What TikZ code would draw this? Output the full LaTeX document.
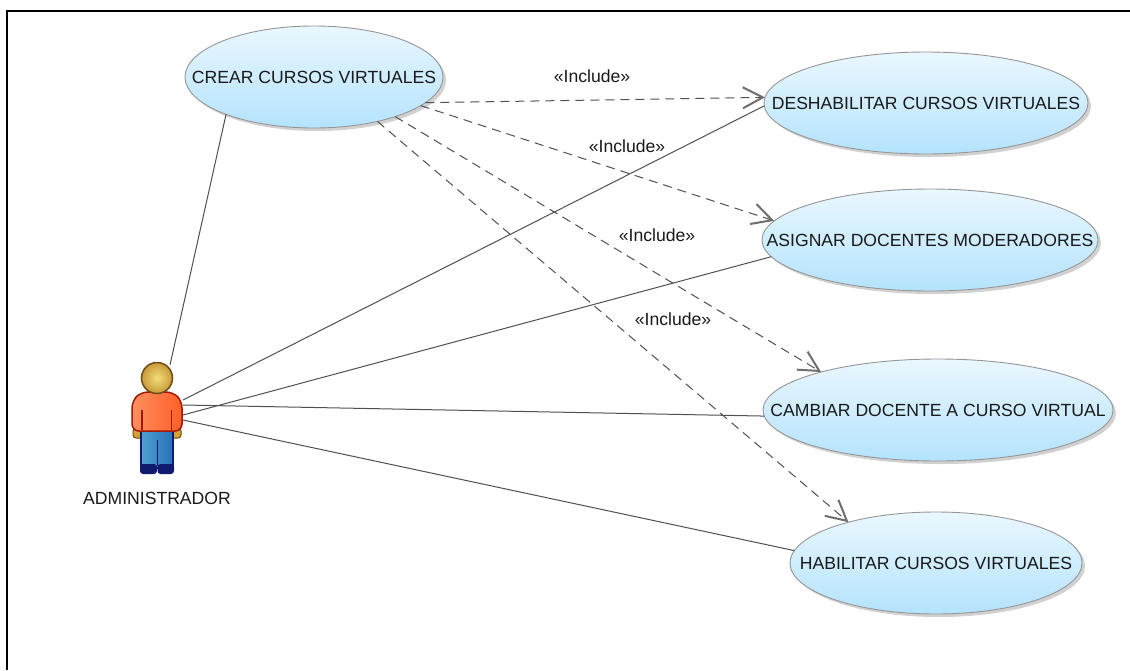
\documentclass[tikz,border=0pt]{standalone}
\usepackage{fontspec}
\setmainfont{Liberation Sans}
\usetikzlibrary{shapes.geometric,shadows,arrows.meta}
\definecolor{uclight}{HTML}{EAF7FF}
\definecolor{ucdark}{HTML}{B4E3FD}
\definecolor{ucline}{HTML}{969696}
\definecolor{conn}{HTML}{505050}
\definecolor{tipc}{HTML}{6E6E6E}
\definecolor{shirtA}{HTML}{FF8F5E}
\definecolor{shirtB}{HTML}{FF5F28}
\definecolor{shirtE}{HTML}{A01808}
\definecolor{jeanA}{HTML}{4FA0D0}
\definecolor{jeanB}{HTML}{2A70B8}
\definecolor{navy}{HTML}{101A6E}
\definecolor{headA}{HTML}{F2DC7A}
\definecolor{headB}{HTML}{C89A38}
\definecolor{headE}{HTML}{6E4A18}
\definecolor{handC}{HTML}{D8A030}
\tikzset{
  usecase/.style={ellipse,draw=ucline,line width=0.9pt,top color=uclight,bottom color=ucdark,
    minimum width=2*#1,minimum height=102pt,inner sep=0pt,outer sep=0pt,font=\fontsize{17.6pt}{20pt}\selectfont,text=black!90,
    drop shadow={shadow xshift=3pt,shadow yshift=-3pt,opacity=.18,fill=black}},
  assoc/.style={draw=conn,line width=1pt},
  incl/.style={draw=conn,line width=1pt,dash pattern=on 9pt off 6pt,
    -{Straight Barb[length=20pt,width=21pt,line width=2pt,color=tipc]}},
  lbl/.style={font=\fontsize{17.6pt}{20pt}\selectfont,text=black!90,inner sep=0pt},
  frameline/.style={draw=black,line width=2pt},
}
\newcommand{\uctext}[1]{\makebox[0pt][c]{#1}}
\begin{document}
\begin{tikzpicture}[x=1pt,y=-1pt]
\useasboundingbox (0,0) rectangle (1130,670);
\fill[white] (0,0) rectangle (1130,670);
\draw[frameline] (6.5,670) -- (6.5,10.5) -- (1130,10.5);

\node[usecase=129] (crear) at (314,77) {\uctext{CREAR CURSOS VIRTUALES}};
\node[usecase=162] (deshab) at (926,103) {\uctext{DESHABILITAR CURSOS VIRTUALES}};
\node[usecase=168] (asignar) at (930,240) {\uctext{ASIGNAR DOCENTES MODERADORES}};
\node[usecase=175] (cambiar) at (938,410) {\uctext{CAMBIAR DOCENTE A CURSO VIRTUAL}};
\node[usecase=146] (habil) at (936,563) {\uctext{HABILITAR CURSOS VIRTUALES}};

% actor figure
\fill[handC,draw=headE,line width=1pt,rounded corners=3pt]
  (133,428) -- (133,438) -- (181,438) -- (181,428) -- cycle;
\path[left color=jeanA,right color=jeanB,draw=navy,line width=1.4pt]
  (141,428) -- (141,468) -- (173,468) -- (173,428) -- cycle;
\draw[navy,line width=1.4pt] (157.3,440) -- (157.3,466);
\fill[navy,rounded corners=3pt] (140,464) rectangle (157,474);
\fill[navy,rounded corners=3pt] (157.5,464) rectangle (174,474);
\path[left color=shirtA,right color=shirtB,draw=shirtE,line width=1.5pt,rounded corners=7pt]
  (132,431) -- (132,401) -- (141,392) -- (173,392) -- (182,401) -- (182,431) -- cycle;
\draw[shirtE,line width=1.4pt] (142,410) -- (142,430) (171.7,410) -- (171.7,430);
\path[inner color=headA,outer color=headB,draw=headE,line width=1.5pt] (157,378) circle (15.5);

\node[lbl] (adminlabel) at (157,498) {ADMINISTRADOR};
\coordinate (atop) at (170,365);
\coordinate (a1) at (183,400);
\coordinate (a2) at (183,405);
\coordinate (a3) at (183,415);
\coordinate (a4) at (183,420);

\draw[assoc] (crear.203.4) -- (atop);
\draw[assoc] (a1) -- (deshab.181.4);
\draw[assoc] (a3) -- (asignar.186.6);
\draw[assoc] (a2) -- (cambiar.182.3);
\draw[assoc] (a4) -- (habil.175.7);

\draw[incl] (crear.-13.7) -- (deshab.178.2);
\draw[incl] (crear.-15.7) -- (asignar.173.6);
\draw[incl] (crear.-26.9) -- (cambiar.162.1);
\draw[incl] (crear.-35.1) -- (habil.155);

\node[lbl] (i1) at (592,76) {«Include»};
\node[lbl] (i2) at (627,146) {«Include»};
\node[lbl] (i3) at (657,235) {«Include»};
\node[lbl] (i4) at (673,319) {«Include»};
\end{tikzpicture}
\end{document}
